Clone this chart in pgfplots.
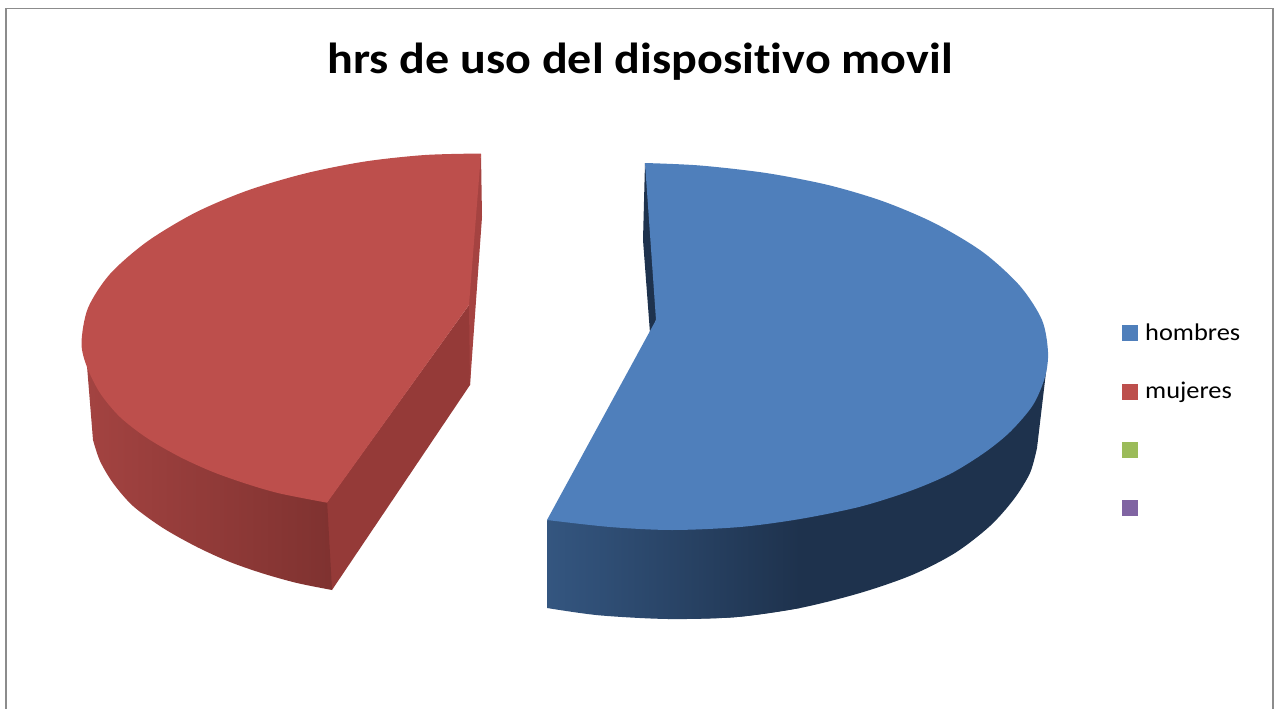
\documentclass[border=0pt]{standalone}
\usepackage{pgfplots}
\pgfplotsset{compat=1.18}
\usepackage{fontspec}
\setmainfont{Carlito}
\definecolor{bluetop}{HTML}{4F7FBB}
\definecolor{redtop}{HTML}{BD4F4C}
\definecolor{bluedark}{HTML}{1E324D}
\definecolor{blueleft}{HTML}{345680}
\definecolor{redleft}{HTML}{A34341}
\definecolor{redmid}{HTML}{933A38}
\definecolor{redright}{HTML}{7F3230}
\definecolor{redface}{HTML}{953A38}
\definecolor{redback}{HTML}{A54341}
\definecolor{framecol}{HTML}{8C8C8C}
\definecolor{keygreen}{HTML}{9BBB59}
\definecolor{keypurple}{HTML}{8064A2}
\begin{document}
\begin{tikzpicture}
\useasboundingbox (0,0) rectangle (1278pt,709pt);
\begin{axis}[at={(0,0)},anchor=south west,scale only axis,width=1278pt,height=709pt,
  xmin=0,xmax=1278,ymin=0,ymax=709,y dir=reverse,hide axis,clip=true]
% frame
\addplot[framecol,line width=1.7pt,line join=miter] coordinates {(6,712) (6,8.5) (1273,8.5) (1273,712)};
% red slice: inner faces (each runs a little under the face drawn after it)
\addplot[fill=redface,draw=none] coordinates {(327,502) (469,305) (471.5,345) (470,385) (332,590) (320,570) (320,510)} -- cycle;
\addplot[fill=redback,draw=none] coordinates {(481,154) (482,217) (470,385) (469,305) (465,240)} -- cycle;
% red outer wall
\addplot[draw=none,shade,left color=redleft,middle color=redmid,right color=redright,smooth,tension=0.5]
  coordinates {(93,440) (100,461) (113,483) (133,506) (163,528) (197,547) (230,562) (263,573.5) (297,583) (332,590)}
  -- (axis cs:327,500) -- (axis cs:200,420) -- (axis cs:87,366) -- cycle;
% red top
\addplot[fill=redtop,draw=none,smooth,tension=0.5]
  coordinates {(481,153.5) (425,155) (365,161.5) (305,173.5) (247,190.7) (195,212.8) (147,241.7) (110,274) (88,308) (81.5,343) (87,367) (100,393) (120,417) (147,438) (180,457) (213,472) (247,484) (280,493.5) (327,502.7)}
  -- (axis cs:469,305) -- cycle;
% blue inner sliver
\addplot[fill=bluedark,draw=none] coordinates {(645,163) (643,240) (650,333) (657,318) (655,250)} -- cycle;
% blue outer wall: flat dark part, then the shaded part over it
\addplot[fill=bluedark,draw=none,smooth,tension=0.5]
  coordinates {(668,619) (736,617.1) (800,608) (860,593) (912,575) (955,553) (990,526) (1014,499) (1030,473) (1037,448)}
  -- (axis cs:1046.5,368) -- (axis cs:736,400) -- cycle;
\addplot[draw=none,shade,left color=blueleft,right color=bluedark,smooth,tension=0.5]
  coordinates {(547,608) (599,615.3) (668,619) (736,617.1) (800,608)}
  -- (axis cs:800,400) -- (axis cs:560,510) -- (axis cs:547,520.5) -- cycle;
% blue top
\addplot[fill=bluetop,draw=none,smooth,tension=0.5]
  coordinates {(645,163) (700,165.5) (766,173) (828,185) (883,201.3) (935,223.4) (983,252.2) (1020,286) (1042,320) (1048,352) (1045,377) (1033,405) (1010,432) (984,453) (950,474) (910,491) (860,506.7) (800,519) (740,527) (672,530) (610,527) (547,520)}
  -- (axis cs:656,320) -- cycle;
% legend keys
\addplot[only marks,mark=square*,mark size=7.3pt,mark options={fill=bluetop,draw=bluetop}] coordinates {(1129.5,332.5)};
\addplot[only marks,mark=square*,mark size=7.3pt,mark options={fill=redtop,draw=redtop}] coordinates {(1129.5,391.5)};
\addplot[only marks,mark=square*,mark size=7.3pt,mark options={fill=keygreen,draw=keygreen}] coordinates {(1129.5,449.5)};
\addplot[only marks,mark=square*,mark size=7.3pt,mark options={fill=keypurple,draw=keypurple}] coordinates {(1129.5,507.5)};
\node[anchor=base west,inner sep=0pt,font=\fontsize{24}{24}\selectfont] at (axis cs:1145,340.7) {\scalebox{1.10}[1]{hombres}};
\node[anchor=base west,inner sep=0pt,font=\fontsize{24}{24}\selectfont] at (axis cs:1145,398.7) {\scalebox{1.10}[1]{mujeres}};
\node[anchor=base,inner sep=0pt,font=\fontsize{43.5}{43.5}\selectfont\bfseries] at (axis cs:640,73.5) {\scalebox{1.105}[1]{hrs de uso del disposit\kern0pt ivo movil}};
\end{axis}
\end{tikzpicture}
\end{document}
